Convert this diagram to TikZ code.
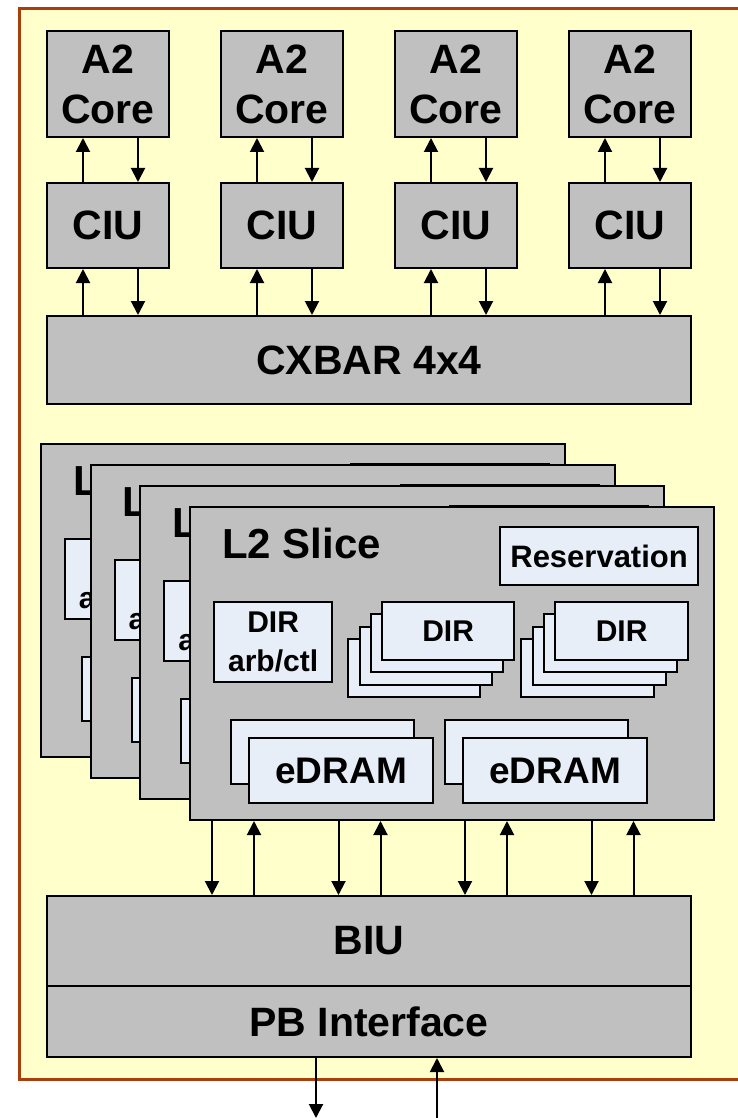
\documentclass[tikz,border=0pt]{standalone}
\usepackage{fontspec}
\setmainfont{Liberation Sans}
\usetikzlibrary{arrows.meta}

\definecolor{chipyellow}{RGB}{255,255,204}
\definecolor{chipbrown}{RGB}{168,62,12}
\definecolor{blockgray}{RGB}{192,192,192}
\definecolor{unitblue}{RGB}{232,238,248}

\tikzset{
  block/.style={draw=black,fill=blockgray,line width=2pt,anchor=north west,
    inner sep=0pt,align=center,font=\bfseries\fontsize{41}{50}\selectfont},
  unit/.style={draw=black,fill=unitblue,line width=2pt,anchor=north west,
    inner sep=0pt,align=center,font=\bfseries\fontsize{30}{39}\selectfont},
  link/.style={line width=2pt,-{Triangle[length=14pt,width=14pt]}},
}

\begin{document}
\begin{tikzpicture}[x=1pt,y=-1pt]
  \useasboundingbox (0,0) rectangle (737,1118);

  % chip outline (right side runs off the page)
  \node[draw=chipbrown,fill=chipyellow,line width=3pt,anchor=north west,
    minimum width=725pt,minimum height=1071pt] (chip) at (18,7) {};

  % cores and their CIUs
  \foreach \i in {1,...,4}{
    \node[block,minimum width=122pt,minimum height=106pt] (core\i) at ({46+174*(\i-1)},30) {A2\\Core};
    \node[block,minimum width=122pt,minimum height=85pt] (ciu\i) at ({46+174*(\i-1)},182) {CIU};
  }

  \node[block,minimum width=644pt,minimum height=88pt] (xbar) at (46,315) {CXBAR 4x4};

  \foreach \i in {1,...,4}{
    \coordinate (cup\i) at ({83+174*(\i-1)},0);
    \coordinate (cdn\i) at ({138+174*(\i-1)},0);
    \draw[link] (cup\i |- ciu\i.north) -- (cup\i |- core\i.south);
    \draw[link] (cdn\i |- core\i.south) -- (cdn\i |- ciu\i.north);
    \draw[link] (cup\i |- xbar.north) -- (cup\i |- ciu\i.south);
    \draw[link] (cdn\i |- ciu\i.south) -- (cdn\i |- xbar.north);
  }

  % stacked L2 slices, back to front
  \foreach \i in {1,...,4}{
    \begin{scope}[shift={({40+49.7*(\i-1)},{443+21*(\i-1)})}]
      \node[block,minimum width=524pt,minimum height=313pt] (slice\i) at (0,0) {};
      \node[anchor=base west,inner sep=0pt,font=\bfseries\fontsize{42}{42}\selectfont] (title\i) at (33,52) {L2 Slice};
      \node[unit,minimum width=198pt,minimum height=58pt,font=\bfseries\fontsize{31}{31}\selectfont] (resv\i) at (310,20) {Reservation};
      \node[unit,minimum width=118pt,minimum height=80pt] (dirctl\i) at (24,95) {DIR\\arb/ctl};
      \foreach \k in {3,2,1}{
        \node[unit,minimum width=132pt,minimum height=58pt] (dira\i\k) at ({192-11.3*\k},{95+12.3*\k}) {};
        \node[unit,minimum width=133pt,minimum height=58pt] (dirb\i\k) at ({365-11.3*\k},{95+12.3*\k}) {};
      }
      \node[unit,minimum width=132pt,minimum height=58pt] (dira\i) at (192,95) {DIR};
      \node[unit,minimum width=133pt,minimum height=58pt] (dirb\i) at (365,95) {DIR};
      \node[unit,minimum width=183pt,minimum height=64pt] (edrama\i0) at (41,213) {};
      \node[unit,minimum width=184pt,minimum height=65pt,font=\bfseries\fontsize{37}{37}\selectfont] (edrama\i) at (59,231) {eDRAM};
      \node[unit,minimum width=183pt,minimum height=64pt] (edramb\i0) at (255,213) {};
      \node[unit,minimum width=184pt,minimum height=65pt,font=\bfseries\fontsize{37}{37}\selectfont] (edramb\i) at (273,231) {eDRAM};
    \end{scope}
  }

  \node[block,minimum width=644pt,minimum height=90pt] (biu) at (46,895) {BIU};
  \node[block,minimum width=644pt,minimum height=71pt] (pb) at (46,985) {PB Interface};

  % slice to BIU
  \foreach \j in {0,...,3}{
    \coordinate (sdn\j) at ({212+126.5*\j},0);
    \coordinate (sup\j) at ({254+126.5*\j},0);
    \draw[link] (sdn\j |- slice4.south) -- (sdn\j |- biu.north);
    \draw[link] (sup\j |- biu.north) -- (sup\j |- slice4.south);
  }

  % PB bus
  \coordinate (busdn) at (316,1118);
  \coordinate (busup) at (437,1118);
  \draw[link] (busdn |- pb.south) -- (busdn);
  \draw[link] (busup) -- (busup |- pb.south);
\end{tikzpicture}
\end{document}
